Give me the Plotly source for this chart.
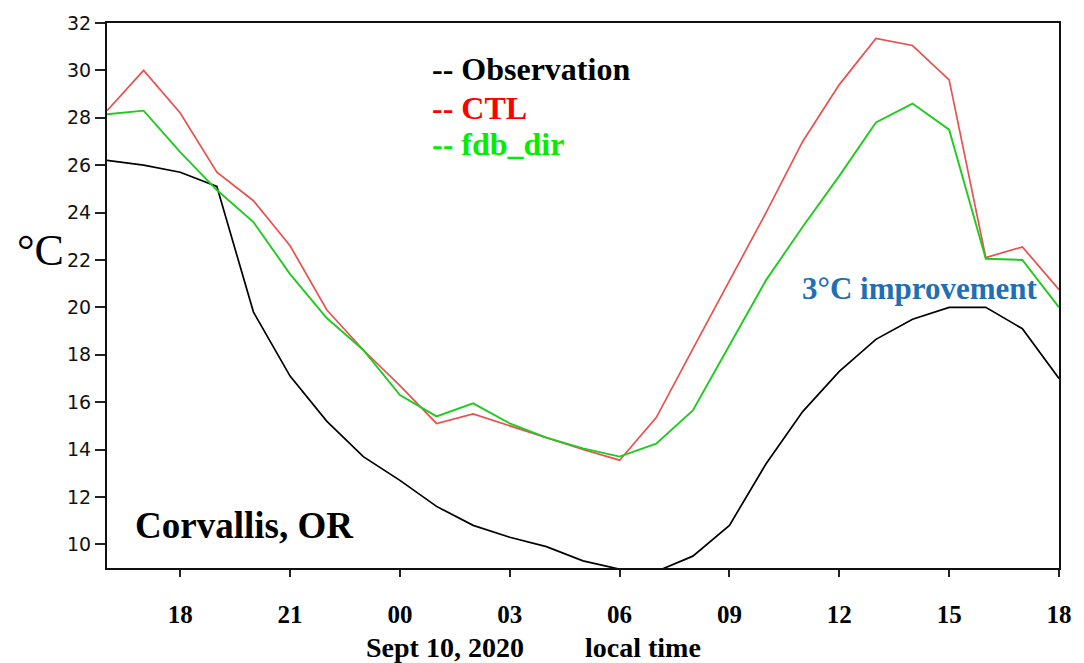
import plotly.graph_objects as go

# hours since 00 local time on Sept 9 (16 = 16:00 Sept 9, 42 = 18:00 Sept 10)
hours = list(range(16, 43))
obs = [26.2, 26.0, 25.7, 25.1, 19.8, 17.1, 15.2, 13.7, 12.7, 11.6, 10.8, 10.3, 9.9, 9.3,
       8.95, 8.85, 9.5, 10.8, 13.4, 15.6, 17.3, 18.65, 19.5, 20.0, 20.0, 19.1, 17.0]
ctl = [28.3, 30.0, 28.2, 25.7, 24.5, 22.6, 19.9, 18.2, 16.7, 15.1, 15.5, 15.0, 14.5, 14.0,
       13.55, 15.35, 18.25, 21.15, 24.0, 27.0, 29.4, 31.35, 31.05, 29.6, 22.1, 22.55, 20.75]
fdb = [28.15, 28.3, 26.55, 24.95, 23.6, 21.4, 19.55, 18.2, 16.3, 15.4, 15.95, 15.1, 14.5, 14.05,
       13.7, 14.25, 15.65, 18.4, 21.15, 23.4, 25.55, 27.8, 28.6, 27.5, 22.05, 22.0, 20.0]

xtick_vals = [18, 21, 24, 27, 30, 33, 36, 39, 42]
xtick_text = ["18", "21", "00", "03", "06", "09", "12", "15", "18"]
ytick_vals = [10, 12, 14, 16, 18, 20, 22, 24, 26, 28, 30, 32]

W, H = 1084, 663
L, R, T, B = 107, 21, 20, 95
PW, PH = W - L - R, H - T - B

def px(xp):
    return (xp - L) / PW

def py(yp):
    return (H - B - yp) / PH

RED = "#e8514f"
GREEN = "#1fcb1f"
BLUE = "#1f6fb6"
SERIF = "Liberation Serif"

fig = go.Figure()
fig.add_trace(go.Scatter(x=hours, y=obs, mode="lines", line=dict(color="black", width=1.7), name="Observation"))
fig.add_trace(go.Scatter(x=hours, y=ctl, mode="lines", line=dict(color=RED, width=1.7), name="CTL"))
fig.add_trace(go.Scatter(x=hours, y=fdb, mode="lines", line=dict(color=GREEN, width=1.9), name="fdb_dir"))

fig.update_xaxes(range=[16, 42], tickvals=xtick_vals, ticktext=xtick_text,
                 ticks="outside", ticklen=7, tickwidth=2, tickcolor="#222",
                 showline=True, linewidth=2, linecolor="#111", mirror=True,
                 showgrid=False, zeroline=False, ticklabelstandoff=16,
                 tickfont=dict(family=SERIF, size=25, color="black", weight="bold"))
fig.update_yaxes(range=[9, 32], tickvals=ytick_vals,
                 ticks="outside", ticklen=10, tickwidth=2, tickcolor="#222",
                 showline=True, linewidth=2, linecolor="#111", mirror=True,
                 showgrid=False, zeroline=False,
                 tickfont=dict(family="DejaVu Sans", size=19, color="#111"))

ann = []
def txt(text, x, y, size, color="black", bold=True, family=SERIF, xanchor="left"):
    ann.append(dict(text=text, x=px(x), y=py(y), xref="paper", yref="paper",
                    xanchor=xanchor, yanchor="middle", showarrow=False,
                    font=dict(family=family, size=size, color=color,
                              weight="bold" if bold else "normal")))

txt("-- Observation", 431, 66, 32, "black")
txt("-- CTL", 431, 105, 32, "#ff0000")
txt("-- fdb_dir", 431, 142, 32, "#00ee00")
txt("Corvallis, OR", 133, 525, 37, "black")
txt("3°C improvement", 803, 287, 31, BLUE)
txt("°C", 15, 249, 44, "black", bold=False)
txt("Sept 10, 2020", 446, 648, 28, "black", xanchor="center")
txt("local time", 645, 648, 28, "black", xanchor="center")

fig.update_layout(width=W, height=H, margin=dict(l=L, r=R, t=T, b=B),
                  plot_bgcolor="white", paper_bgcolor="white",
                  showlegend=False, annotations=ann)

fig.write_html("out.html")
